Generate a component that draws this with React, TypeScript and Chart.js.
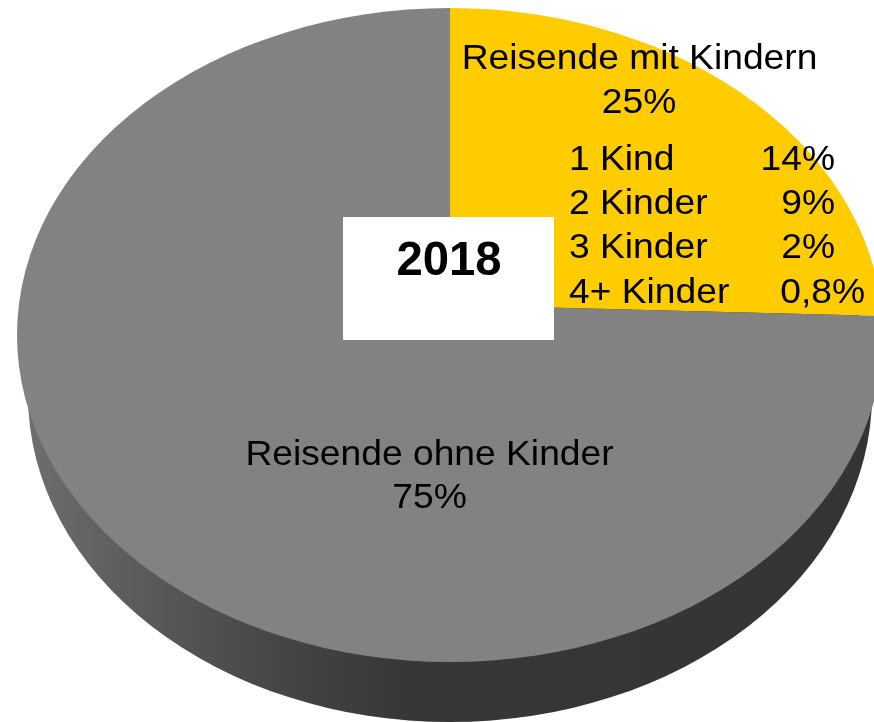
import React, { useEffect, useRef } from "react";
import { Chart, registerables } from "chart.js";

Chart.register(...registerables);

const categories = ["Reisende mit Kindern", "Reisende ohne Kinder"];
const shares = [25, 75];
const shareLabels = ["25%", "75%"];
const childCategories = ["1 Kind", "2 Kinder", "3 Kinder", "4+ Kinder"];
const childShares = ["14%", "9%", "2%", "0,8%"];
const yearLabel = "2018";
const sliceColors = ["#FFCC00", "#828282"];

const WIDTH = 874;
const HEIGHT = 722;
const FONT = '"Liberation Sans", Arial, sans-serif';
const TEXT_STRETCH = 1.063;

// Face of the tilted disc and its lower rim, in canvas pixels.
const face = { cx: 450, cy: 335, rx: 433, ry: 327 };
const rim = { cx: 450, cy: 395, rx: 422, ry: 327 };
const edgeSkew = 0.0255;

function put(
  ctx: CanvasRenderingContext2D,
  text: string,
  x: number,
  y: number,
  align: CanvasTextAlign,
  font = `35px ${FONT}`,
  stretch = TEXT_STRETCH
) {
  ctx.save();
  ctx.translate(x, y);
  ctx.scale(stretch, 1);
  ctx.font = font;
  ctx.fillStyle = "#000000";
  ctx.textAlign = align;
  ctx.textBaseline = "alphabetic";
  ctx.fillText(text, 0, 0);
  ctx.restore();
}

const discPlugin = {
  id: "disc",
  beforeDraw(chart: Chart) {
    const { ctx } = chart;
    const wall = ctx.createLinearGradient(rim.cx - rim.rx, 0, rim.cx + rim.rx, 0);
    wall.addColorStop(0, "#6e6e6e");
    wall.addColorStop(0.08, "#626262");
    wall.addColorStop(0.2, "#525252");
    wall.addColorStop(0.33, "#424242");
    wall.addColorStop(0.45, "#373737");
    wall.addColorStop(1, "#343434");
    ctx.save();
    ctx.fillStyle = wall;
    ctx.beginPath();
    ctx.ellipse(rim.cx, rim.cy, rim.rx, rim.ry, 0, 0, Math.PI * 2);
    ctx.fill();
    ctx.restore();
  },
  beforeDatasetDraw(chart: Chart) {
    const { ctx } = chart;
    const arc: any = chart.getDatasetMeta(0).data[0];
    ctx.save();
    ctx.beginPath();
    ctx.ellipse(face.cx, face.cy, face.rx, face.ry, 0, 0, Math.PI * 2);
    ctx.clip();
    ctx.translate(arc.x, arc.y);
    ctx.transform(1, edgeSkew, 0, 1, 0, 0);
    ctx.translate(-arc.x, -arc.y);
  },
  afterDatasetDraw(chart: Chart) {
    chart.ctx.restore();
  },
  afterDraw(chart: Chart) {
    const { ctx } = chart;
    ctx.save();
    ctx.fillStyle = "#ffffff";
    ctx.fillRect(343, 217, 211, 123);
    ctx.restore();

    put(ctx, yearLabel, 449, 275, "center", `bold 48px ${FONT}`, 0.985);
    put(ctx, categories[0], 639.5, 69, "center");
    put(ctx, shareLabels[0], 639, 113, "center");
    put(ctx, categories[1], 429.5, 465, "center");
    put(ctx, shareLabels[1], 429.5, 507.5, "center");

    const rows = [170, 214, 258, 303];
    const rights = [835, 835, 835, 865];
    childCategories.forEach((label, i) => {
      put(ctx, label, 569, rows[i], "left");
      put(ctx, childShares[i], rights[i], rows[i], "right");
    });
  },
};

export default function App() {
  const ref = useRef<HTMLCanvasElement>(null);

  useEffect(() => {
    if (!ref.current) return;
    const chart = new Chart(ref.current, {
      type: "pie",
      data: {
        labels: categories,
        datasets: [
          {
            data: shares,
            backgroundColor: sliceColors,
            borderWidth: 0,
            clip: false,
          } as any,
        ],
      },
      options: {
        responsive: false,
        animation: false,
        radius: 640,
        layout: { padding: { left: 26, right: 0, top: 0, bottom: 112 } },
        plugins: { legend: { display: false }, tooltip: { enabled: false }, title: { display: false } },
      } as any,
      plugins: [discPlugin as any],
    });
    return () => chart.destroy();
  }, []);

  return (
    <div style={{ position: "absolute", left: 0, top: 0, width: WIDTH, height: HEIGHT, overflow: "hidden", background: "#ffffff" }}>
      <canvas ref={ref} width={WIDTH} height={HEIGHT} style={{ display: "block" }} />
    </div>
  );
}
